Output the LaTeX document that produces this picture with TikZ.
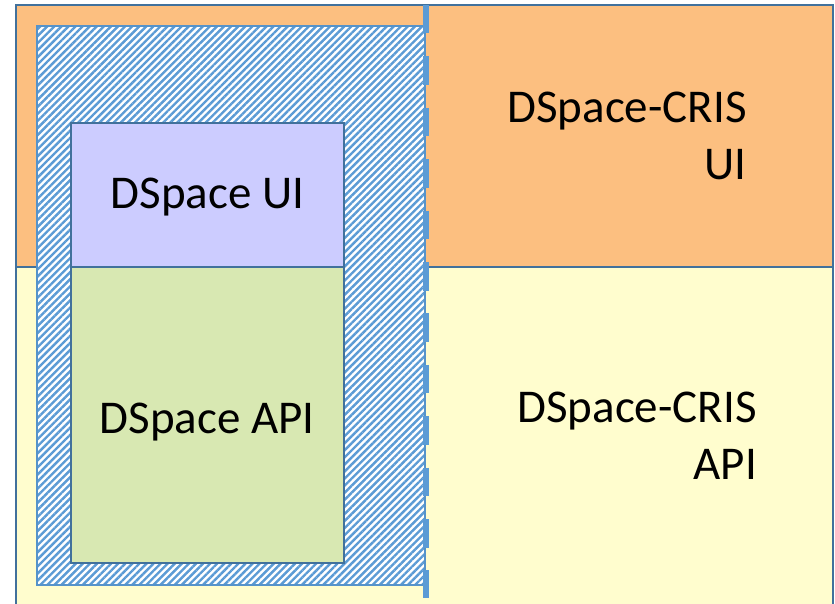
\documentclass[tikz,border=0pt]{standalone}
\usepackage{fontspec}
\setmainfont{Carlito}
\usetikzlibrary{patterns.meta}
\definecolor{orangefill}{RGB}{252,191,128}
\definecolor{yellowfill}{RGB}{255,253,206}
\definecolor{purplefill}{RGB}{204,204,255}
\definecolor{greenfill}{RGB}{216,232,178}
\definecolor{frameblue}{RGB}{65,113,156}
\definecolor{hatchblue}{RGB}{91,155,213}
\tikzset{
  layer/.style={draw=frameblue, line width=2pt},
  label/.style={inner sep=0pt, font=\fontsize{47}{57}\selectfont},
}
\begin{document}
\begin{tikzpicture}[x=1pt,y=-1pt]
\useasboundingbox (0,0) rectangle (835,604);
% outer layers
\draw[layer, fill=orangefill] (16,5) rectangle (833,267);
\draw[layer, fill=yellowfill] (16,267) rectangle (833,640);
% hatched DSpace area
\fill[white] (37,26) rectangle (425,585);
\path[pattern={Lines[angle=45, distance=5pt, line width=2.4pt]}, pattern color=hatchblue] (37,26) rectangle (425,585);
\draw[draw=hatchblue!80!frameblue, line width=1.5pt] (37,26) rectangle (425,585);
% inner boxes
\draw[layer, fill=purplefill] (71,123) rectangle (344,267);
\draw[layer, fill=greenfill] (71,267) rectangle (344,563);
% dashed boundary
\coordinate (dtop) at (426,5);
\coordinate (dbot) at (426,598);
\draw[hatchblue, line width=6pt, dash pattern=on 28.5pt off 22.9pt] (dtop) -- (dbot);
% labels
\node[label, anchor=base] (ui) at (207.5,209) {DSpace UI};
\node[label, anchor=base] (api) at (207,433) {DSpace API};
\node[label, anchor=base east, align=right] (crisui) at (747,180) {DSpace-CRIS\\UI};
\node[label, anchor=base east, align=right] (crisapi) at (757,479) {DSpace-CRIS\\API};
\end{tikzpicture}
\end{document}
